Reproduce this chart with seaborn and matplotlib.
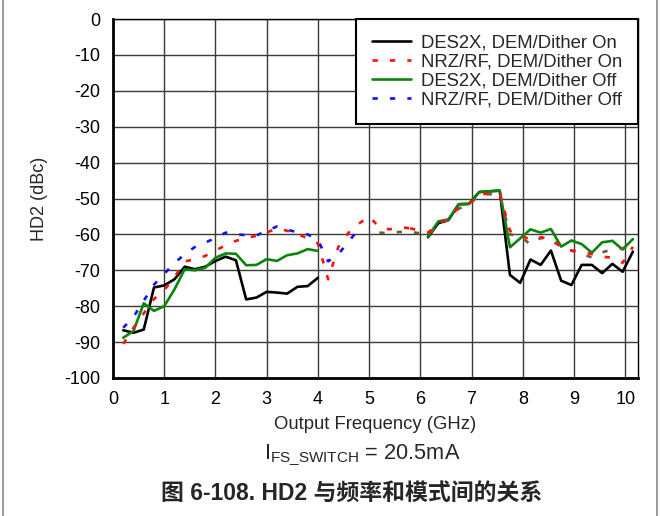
import matplotlib
matplotlib.use("Agg")
import matplotlib.pyplot as plt
import seaborn as sns
import pandas as pd
from matplotlib.lines import Line2D

# ---------------- data ----------------
freq_lo = [0.2, 0.4, 0.6, 0.8, 1.0, 1.2, 1.4, 1.6, 1.8, 2.0,
           2.2, 2.4, 2.6, 2.8, 3.0, 3.2, 3.4, 3.6, 3.8, 4.0]
freq_hi = [6.15, 6.35, 6.55, 6.75, 6.95, 7.15, 7.35, 7.55, 7.75, 7.95,
           8.15, 8.35, 8.55, 8.75, 8.95, 9.15, 9.35, 9.55, 9.75, 9.95, 10.15]
freq_mid = [4.2, 4.4, 4.6, 4.8, 5.0, 5.2, 5.4, 5.6, 5.8]

des2x_on_lo = [-86.7, -87.4, -86.5, -74.8, -74.2, -72.5, -69.0, -69.7, -69.0, -67.4,
               -66.2, -67.2, -78.1, -77.6, -76.0, -76.2, -76.5, -74.6, -74.4, -72.1]
des2x_on_hi = [-60.8, -56.9, -56.0, -51.6, -51.5, -48.2, -48.0, -47.8, -71.3, -73.5,
               -67.0, -68.5, -64.5, -72.9, -74.1, -68.5, -68.5, -70.8, -68.2, -70.4, -64.8]

des2x_off_lo = [-88.8, -86.9, -79.2, -81.3, -80.0, -75.3, -69.7, -70.0, -69.3, -66.5,
                -65.3, -65.4, -68.6, -68.5, -66.9, -67.4, -65.8, -65.3, -64.1, -64.6]
des2x_off_hi = [-60.6, -56.4, -55.8, -51.6, -51.5, -48.2, -48.0, -47.8, -63.6, -61.1,
                -58.6, -59.5, -58.5, -63.4, -61.7, -62.7, -65.1, -62.2, -61.8, -64.2, -61.3]

nrz_on_lo = [-90.5, -86.0, -82.0, -78.0, -75.5, -72.0, -67.5, -67.0, -66.0, -64.5,
             -63.0, -61.8, -61.0, -60.4, -59.5, -58.3, -59.0, -60.0, -61.0, -62.5]
nrz_on_mid = [-72.5, -63.5, -59.5, -57.0, -55.0, -58.0, -58.6, -58.0, -58.3]
nrz_on_hi = [-59.5, -57.0, -55.5, -52.5, -51.5, -49.0, -48.5, -48.5, -59.0, -60.2,
             -61.5, -60.8, -61.2, -63.5, -64.5, -64.8, -65.5, -66.2, -66.5, -67.9, -63.5]

nrz_off_lo = [-86.0, -83.0, -78.5, -74.0, -71.0, -68.0, -65.5, -63.5, -62.3, -61.0,
              -59.5, -60.0, -60.2, -60.3, -59.0, -57.8, -58.7, -59.4, -60.0, -61.5]
nrz_off_mid = [-67.5, -65.5, -62.0, -58.5, -57.5, -59.5, -59.7, -59.3, -59.3]
nrz_off_hi = [-60.0, -57.5, -55.8, -52.8, -51.8, -49.0, -48.8, -49.0, -60.0, -60.5,
              -62.8, -61.0, -61.5, -63.5, -64.5, -65.5, -66.4, -65.0, -64.2, -63.9, -62.5]

labels = ["DES2X, DEM/Dither On", "NRZ/RF, DEM/Dither On",
          "DES2X, DEM/Dither Off", "NRZ/RF, DEM/Dither Off"]
x_ticks = list(range(0, 11))
y_ticks = list(range(-100, 1, 10))

# ---------------- style ----------------
sns.set_style("white")
plt.rcParams["font.family"] = ["Liberation Sans", "Noto Sans CJK SC", "DejaVu Sans"]
plt.rcParams["axes.unicode_minus"] = False
plt.rcParams["mathtext.fontset"] = "custom"
plt.rcParams["mathtext.rm"] = "Liberation Sans"
plt.rcParams["mathtext.it"] = "Liberation Sans:italic"
plt.rcParams["mathtext.bf"] = "Liberation Sans:bold"

C_BLACK = "#000000"
C_RED = "#ff1010"
C_GREEN = "#0a850a"
C_BLUE = "#1010ff"
C_BROWN = "#6e5a3a"
LW = 1.9
DASH = (0, (2.0, 4.6))

fig = plt.figure(figsize=(6.6, 5.16), dpi=100)
ax = fig.add_axes([113 / 660, 1 - 378 / 516, 525 / 660, 359 / 516])


def seg(x, y, color, label="_nolegend_", dashed=False, z=3):
    df = pd.DataFrame({"x": x, "y": y})
    kw = dict(linestyle=DASH) if dashed else {}
    sns.lineplot(data=df, x="x", y="y", ax=ax, color=color, lw=LW, sort=False,
                 estimator=None, label=label, zorder=z, **kw)


# labelled segments first (legend order)
seg(freq_lo, des2x_on_lo, C_BLACK, labels[0], z=3)
seg(freq_lo + freq_mid, nrz_on_lo + nrz_on_mid, C_RED, labels[1], dashed=True, z=5)
seg(freq_lo, des2x_off_lo, C_GREEN, labels[2], z=4)
seg(freq_lo + freq_mid[:4], nrz_off_lo + nrz_off_mid[:4], C_BLUE, labels[3], dashed=True, z=6)
# remaining segments
seg(freq_hi, des2x_on_hi, C_BLACK, z=3)
seg(freq_hi, des2x_off_hi, C_GREEN, z=4)
seg([freq_mid[-1]] + freq_hi, [nrz_on_mid[-1]] + nrz_on_hi, C_RED, dashed=True, z=5)
seg(freq_mid[5:] + freq_hi, nrz_off_mid[5:] + nrz_off_hi, C_BROWN, dashed=True, z=4)

ax.set_xlim(0, 10.25)
ax.set_ylim(-100, 0)
ax.set_xticks(x_ticks)
ax.set_yticks(y_ticks)
ax.grid(True, color="#3a3a3a", lw=1.0, zorder=0)
ax.set_axisbelow(True)
ax.tick_params(axis="both", length=0, pad=9, labelsize=13, colors="black")
for s in ax.spines.values():
    s.set_color("black")
    s.set_linewidth(1.0)
ax.spines["left"].set_linewidth(2.0)
ax.spines["bottom"].set_linewidth(2.0)

ax.set_xlabel("Output Frequency (GHz)", fontsize=13.3, labelpad=6)
ax.set_ylabel("HD2 (dBc)", fontsize=13, labelpad=12)

leg = ax.legend(loc="upper right", bbox_to_anchor=(1.0, 1.0), borderaxespad=0,
                frameon=True, fancybox=False, edgecolor="black", framealpha=1,
                fontsize=13.3, handlelength=2.1, handletextpad=0.55,
                labelspacing=0.1, borderpad=0.85)
leg.get_frame().set_linewidth(1.5)
leg.set_zorder(10)

fig.text(362 / 660, 1 - 455 / 516, r"I$_{\mathrm{FS\_SWITCH}}$ = 20.5mA",
         ha="center", va="center", fontsize=15.7)
fig.text(352 / 660, 1 - 493 / 516, "图 6-108. HD2 与频率和模式间的关系",
         ha="center", va="center", fontsize=16.5, fontweight="bold",
         family=["Liberation Sans", "Noto Sans CJK SC"])

# outer frame lines
fig.add_artist(Line2D([3 / 660, 3 / 660], [0, 1], color="#888888", lw=1.2,
                      transform=fig.transFigure))
fig.add_artist(Line2D([657 / 660, 657 / 660], [0, 1], color="#888888", lw=1.2,
                      transform=fig.transFigure))

fig.savefig("out.png", dpi=100)
